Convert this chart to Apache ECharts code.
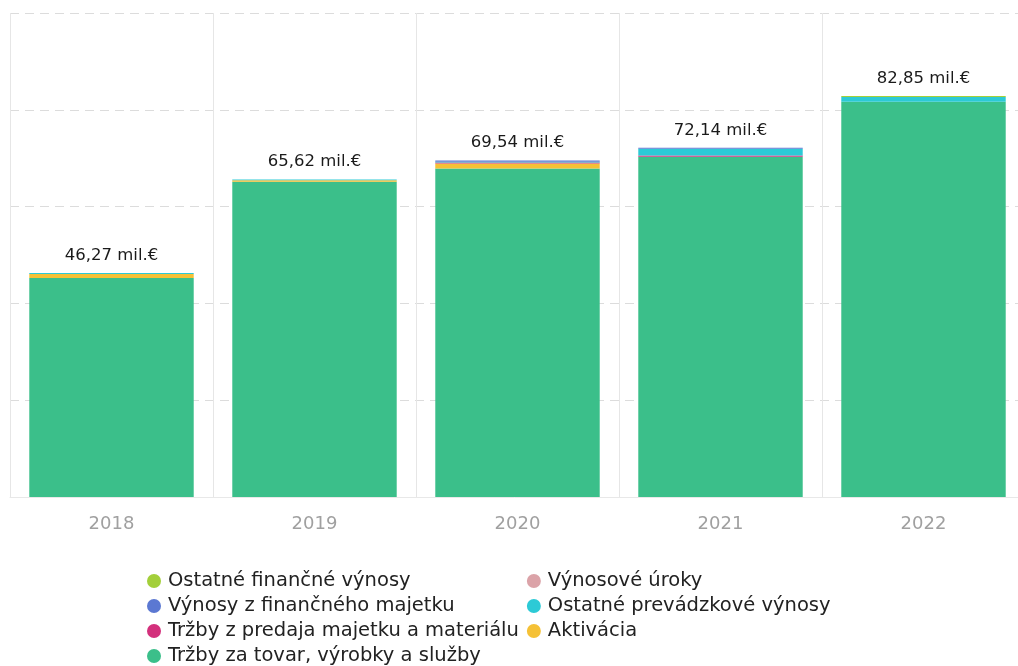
<!DOCTYPE html>
<html>
<head>
<meta charset="utf-8">
<script src="https://cdn.jsdelivr.net/npm/echarts@6/dist/echarts.min.js"></script>
<style>
  html, body { margin: 0; padding: 0; background: #fff; }
  #chart { width: 1018px; height: 666px; }
</style>
</head>
<body>
<div id="chart"></div>
<script>
// Výnosy podľa druhu (mil. €)
const years = ['2018', '2019', '2020', '2021', '2022'];

const trzbyZaTovar      = [45.24, 65.12, 67.85, 70.30, 81.65];
const aktivacia         = [0.83, 0.30, 1.04, 0.00, 0.00];
const trzbyZPredaja     = [0.00, 0.00, 0.20, 0.25, 0.00];
const ostatnePrevadzk   = [0.20, 0.20, 0.20, 1.39, 1.00];
const vynosyZFinMajetku = [0.00, 0.00, 0.25, 0.20, 0.00];
const vynosoveUroky     = [0.00, 0.00, 0.00, 0.00, 0.00];
const ostatneFinancne   = [0.00, 0.00, 0.00, 0.00, 0.20];

const stackSeries = [
  { name: 'Tržby za tovar, výrobky a služby', data: trzbyZaTovar,      color: '#3bbf8a' },
  { name: 'Aktivácia',                        data: aktivacia,         color: '#f5c136' },
  { name: 'Tržby z predaja majetku a materiálu', data: trzbyZPredaja,  color: '#d3307c' },
  { name: 'Ostatné prevádzkové výnosy',       data: ostatnePrevadzk,   color: '#2ccad6' },
  { name: 'Výnosy z finančného majetku',      data: vynosyZFinMajetku, color: '#5b78d2' },
  { name: 'Výnosové úroky',                   data: vynosoveUroky,     color: '#dba3a8' },
  { name: 'Ostatné finančné výnosy',          data: ostatneFinancne,   color: '#a3cf3a' }
];

// Súčet za rok = výška celého stĺpca
const totals = years.map((_, i) =>
  Math.round(stackSeries.reduce((s, ser) => s + ser.data[i], 0) * 100) / 100
);

const legendOrder = [
  'Ostatné finančné výnosy',
  'Výnosy z finančného majetku',
  'Tržby z predaja majetku a materiálu',
  'Tržby za tovar, výrobky a služby',
  'Výnosové úroky',
  'Ostatné prevádzkové výnosy',
  'Aktivácia'
];

const FONT = 'DejaVu Sans, Verdana, sans-serif';

const chart = echarts.init(document.getElementById('chart'), null, { renderer: 'canvas' });

const series = stackSeries.map(s => ({
  name: s.name,
  type: 'bar',
  stack: 'vynosy',
  data: s.data,
  barCategoryGap: '19%',
  itemStyle: { color: s.color },
  emphasis: { disabled: true }
}));

// Popisky so súčtom nad stĺpcami
series.push({
  name: 'Spolu',
  type: 'bar',
  data: totals,
  barGap: '-100%',
  barCategoryGap: '19%',
  itemStyle: { color: 'rgba(0,0,0,0)' },
  silent: true,
  z: 10,
  label: {
    show: true,
    position: 'top',
    distance: 9,
    color: '#1a1a1a',
    fontSize: 16.5,
    fontFamily: FONT,
    formatter: p => p.value.toFixed(2).replace('.', ',') + ' mil.€'
  }
});

chart.setOption({
  animation: false,
  backgroundColor: '#ffffff',
  grid: {
    left: 10, width: 1015, top: 13, bottom: 169,
    containLabel: false,
    outerBoundsMode: 'none'
  },
  legend: {
    data: legendOrder,
    orient: 'vertical',
    left: 142,
    top: 566,
    height: 112,
    itemGap: 5,
    itemWidth: 14,
    itemHeight: 14,
    icon: 'circle',
    selectedMode: false,
    textStyle: {
      color: '#222',
      fontSize: 19.5,
      lineHeight: 20,
      fontFamily: FONT,
      padding: [0, 3, 0, 2]
    }
  },
  xAxis: {
    type: 'category',
    data: years,
    axisLine: { show: true, lineStyle: { color: '#e8e8e8' } },
    axisTick: { show: false },
    axisLabel: {
      color: '#a0a0a0',
      fontSize: 18,
      margin: 18,
      fontFamily: FONT
    },
    splitLine: { show: true, lineStyle: { color: '#e6e6e6', width: 1 } }
  },
  yAxis: {
    type: 'value',
    min: 0,
    max: 100,
    interval: 20,
    axisLine: { show: false },
    axisTick: { show: false },
    axisLabel: { show: false },
    splitLine: { show: true, lineStyle: { color: '#dcdcdc', type: [9, 6], width: 1 } }
  },
  series: series
});
</script>
</body>
</html>
